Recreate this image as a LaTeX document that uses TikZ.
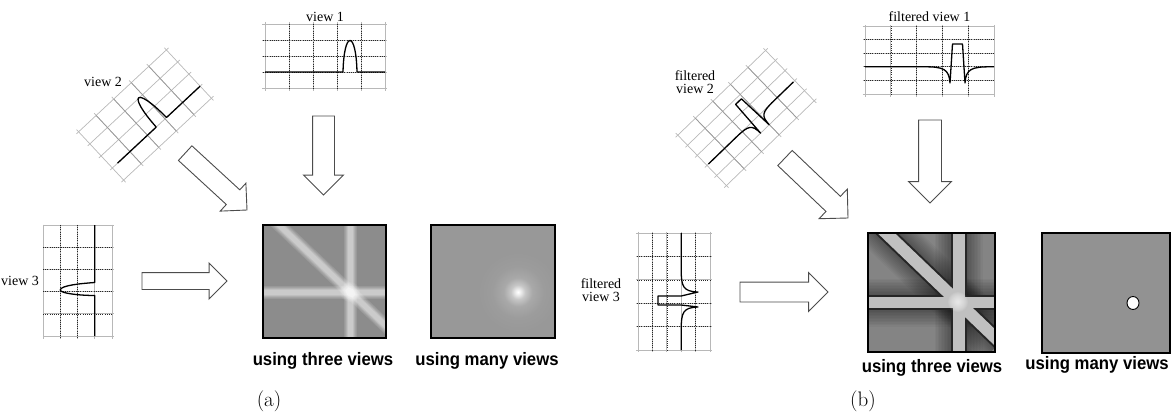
\documentclass[tikz,border=0pt]{standalone}
\usepackage{fontspec}
\usepackage{tikz}
\usetikzlibrary{positioning,shapes.arrows}
\newfontfamily\viewfont{Liberation Serif}
\newfontfamily\capfont[FakeStretch=0.93]{Liberation Sans}
\definecolor{imga}{RGB}{140,140,140}
\definecolor{imgm}{RGB}{152,152,152}
\definecolor{imgb}{RGB}{132,132,132}
\definecolor{imgbm}{RGB}{146,146,146}
\definecolor{bandb}{RGB}{192,192,192}
\pgfdeclareradialshading{glow}{\pgfpoint{0bp}{0bp}}{color(0bp)=(white); color(1.5bp)=(white!85!imgm);
  color(4.5bp)=(white!45!imgm); color(9bp)=(white!16!imgm); color(16bp)=(white!4!imgm); color(25bp)=(imgm); color(50bp)=(imgm)}

\begin{document}
\begin{tikzpicture}[
  x=1pt, y=-1pt,
  viewbox/.style={inner sep=0pt, outer sep=0pt},
  gridln/.style={draw=black!28, line width=0.7pt},
  griddot/.style={draw=black!85, line width=0.6pt, dash pattern=on 1pt off 1.2pt},
  sig/.style={draw=black, line width=1.3pt, line join=round},
  blockarr/.style={single arrow, draw=black!70, fill=white, line width=0.9pt,
    single arrow head indent=0pt, inner xsep=0pt, outer sep=0pt, minimum width=0pt, anchor=tip},
  viewlab/.style={font=\viewfont\fontsize{14}{12.5}\selectfont, align=center, inner sep=0pt},
  img/.style={inner sep=0pt, outer sep=0pt},
  border/.style={draw=black, line width=1.4pt},
  caplab/.style={font=\capfont\bfseries\fontsize{18}{18}\selectfont, inner sep=0pt},
  sublab/.style={font=\fontsize{21}{24}\selectfont, inner sep=0pt},
]
\useasboundingbox (0,0) rectangle (1172,420);

% (a) The three views.
\node[viewbox, minimum width=120pt, minimum height=64pt] (V1) at (325,56) {};
\begin{scope}[shift={(V1.center)}]
  \foreach \x in {-60,-36,...,60} \draw[gridln] (\x,-34) -- (\x,35);
  \foreach \y in {-32,-16,...,32} \draw[gridln] (-63,\y) -- (62,\y);
  \foreach \x in {-36,-12,12,36} \draw[griddot] (\x,-32) -- (\x,34);
  \foreach \y in {-16,0,16} \draw[griddot] (-62,\y) -- (60,\y);
  \draw[sig] (-60,16) -- (18,16) .. controls (19,-26) and (31,-26) .. (32,16) -- (60,16);
\end{scope}
\node[viewlab, above=2pt of V1] (L1) {view 1};

\node[viewbox, rotate=43, minimum width=120pt, minimum height=66pt] (V2) at (145,115) {};
\begin{scope}[shift={(V2.center)}, rotate=43]
  \foreach \x in {-60,-36,...,60} \draw[gridln] (\x,-36) -- (\x,36);
  \foreach \y in {-33,-16.5,0,16.5,33} \draw[gridln] (-63,\y) -- (63,\y);
  \foreach \x in {-36,-12,12,36} \draw[gridln, draw=black!40] (\x,-33) -- (\x,33);
  \draw[sig] (-53,16.5) -- (0,16.5) .. controls (1,-28) and (13,-28) .. (14,16.5) -- (60,16.5);
\end{scope}
\node[viewlab] (L2) at (103,82) {view 2};

\node[viewbox, minimum width=69pt, minimum height=111pt] (V3) at (77.5,280.5) {};
\begin{scope}[shift={(V3.center)}]
  \foreach \x in {-34.5,-17.25,0,17.25,34.5} \draw[gridln] (\x,-56) -- (\x,58);
  \foreach \y in {-55.5,-33.3,-11.1,11.1,33.3,55.5} \draw[gridln] (-34.5,\y) -- (36,\y);
  \foreach \x in {-17.25,0} \draw[griddot] (\x,-55.5) -- (\x,57);
  \foreach \y in {-33.3,-11.1,11.1,33.3} \draw[griddot] (-34.5,\y) -- (34.5,\y);
  \draw[sig] (17.25,-55.5) -- (17.25,2) .. controls (3,3) and (-17,5) .. (-17.25,9.5)
    .. controls (-17,13) and (3,15) .. (17.25,15) -- (17.25,55.5);
\end{scope}
\node[viewlab, anchor=west] (L3) at (1,281) {view 3};

\node[blockarr, rotate=-90, minimum height=79pt, inner ysep=10.5pt, single arrow head extend=9pt] (A1) at (323.5,195) {};
\node[blockarr, rotate=-42.6, minimum height=84pt, inner ysep=9.5pt, single arrow head extend=9pt] (A2) at (247,210) {};
\node[blockarr, minimum height=85pt, inner ysep=8pt, single arrow head extend=9.5pt] (A3) at (227,281) {};

% (a) Back projection.
\node[img, fill=imga, minimum width=123pt, minimum height=113pt] (I3) at (324.5,281.5) {};
\begin{scope}
  \clip (I3.south west) rectangle (I3.north east);
  \foreach \w/\o in {13/0.12, 11/0.1, 9/0.15, 7/0.2, 5/0.2} {
    \draw[white, opacity=\o, line width=\w pt] (350,215) -- (350,345);
    \draw[white, opacity=\o, line width=\w pt] (258,292) -- (392,292);
    \draw[white, opacity=\o, line width=\w pt] (272,218.3) -- (392,331.7);
  }
  \foreach \r in {1,...,10} \fill[white, opacity=0.08] (350,292) circle (\r pt);
\end{scope}
\draw[border] (I3.south west) rectangle (I3.north east);

\node[img, fill=imgm, minimum width=124pt, minimum height=113pt] (IM) at (493,281.5) {};
\begin{scope}
  \clip (IM.south west) rectangle (IM.north east);
  \shade[shading=glow] (518,292) circle (40pt);
\end{scope}
\draw[border] (IM.south west) rectangle (IM.north east);

\node[caplab] (C3a) at (323,361) {using three views};
\node[caplab] (CMa) at (487,361) {using many views};
\node[sublab] (SA) at (269,401) {(a)};

% (b) The filtered views.
\node[viewbox, minimum width=129pt, minimum height=68pt] (F1) at (929.5,60) {};
\begin{scope}[shift={(F1.center)}]
  \foreach \x in {-64.5,-38.7,-12.9,12.9,38.7,64.5} \draw[gridln] (\x,-35) -- (\x,37);
  \foreach \y in {-34,-20.4,-6.8,6.8,20.4,34} \draw[gridln] (-67,\y) -- (65,\y);
  \foreach \x in {-38.7,-12.9,12.9,38.7} \draw[griddot] (\x,-34) -- (\x,36);
  \foreach \y in {-20.4,-6.8,6.8,20.4} \draw[griddot] (-66,\y) -- (64.5,\y);
  \draw[sig] (-64.5,6.8) -- (-5,6.8) .. controls (14,6.8) and (19.5,9) .. (20.5,23) -- (23,-16)
    -- (33,-16) -- (35.5,23) .. controls (36.5,9) and (42,6.8) .. (61,6.8) -- (64.5,6.8);
\end{scope}
\node[viewlab, above=4pt of F1] (M1) {filtered view 1};

\node[viewbox, rotate=44, minimum width=122pt, minimum height=70pt] (F2) at (746,118) {};
\begin{scope}[shift={(F2.center)}, rotate=44]
  \foreach \x in {-61,-36.6,-12.2,12.2,36.6,61} \draw[gridln] (\x,-38) -- (\x,38);
  \foreach \y in {-35,-21,-7,7,21,35} \draw[gridln] (-64,\y) -- (64,\y);
  \foreach \x in {-36.6,-12.2,12.2,36.6} \draw[gridln, draw=black!40] (\x,-35) -- (\x,35);
  \draw[sig] (-59,7) -- (-20,7) .. controls (-3,7) and (-0.5,9) .. (0,21) -- (2,-17) -- (10,-17)
    -- (12,21) .. controls (12.5,9) and (15,7) .. (32,7) -- (59,7);
\end{scope}
\node[viewlab] (M2) at (695,82) {filtered\\view 2};

\node[viewbox, minimum width=72pt, minimum height=117pt] (F3) at (674,291.5) {};
\begin{scope}[shift={(F3.center)}]
  \foreach \x in {-36,-21.6,-7.2,7.2,21.6,36} \draw[gridln] (\x,-60) -- (\x,60);
  \foreach \y in {-58.5,-35.1,-11.7,11.7,35.1,58.5} \draw[gridln] (-38,\y) -- (38,\y);
  \foreach \x in {-21.6,-7.2,21.6} \draw[griddot] (\x,-58.5) -- (\x,60);
  \foreach \y in {-35.1,-11.7,11.7,35.1} \draw[griddot] (-37,\y) -- (37,\y);
  \draw[sig] (7.2,-58.5) -- (7.2,-22) .. controls (7.2,-5) and (9,0) .. (24,0.5) -- (7.2,4.5)
    -- (-16,4.5) -- (-16,13.5) -- (7.2,13.5) -- (24,15.5) .. controls (9,16) and (7.2,21) .. (7.2,38) -- (7.2,58.5);
\end{scope}
\node[viewlab] (M3) at (601,290) {filtered\\view 3};

\node[blockarr, rotate=-90, minimum height=83pt, inner ysep=11pt, single arrow head extend=10pt] (B1) at (930,203) {};
\node[blockarr, rotate=-43.6, minimum height=87pt, inner ysep=10pt, single arrow head extend=10pt] (B2) at (848,218) {};
\node[blockarr, minimum height=88pt, inner ysep=9.5pt, single arrow head extend=9.5pt] (B3) at (828,292) {};

% (b) Filtered back projection.
\node[img, fill=imgb, minimum width=127pt, minimum height=119pt] (J3) at (931.5,292.5) {};
\begin{scope}
  \clip (J3.south west) rectangle (J3.north east);
  \foreach \w in {18,21,...,50} {
    \draw[black, opacity=0.035, line width=\w pt] (958.5,225) -- (958.5,360);
    \draw[black, opacity=0.035, line width=\w pt] (860,302.5) -- (1000,302.5);
    \draw[black, opacity=0.035, line width=\w pt] (876,223.4) -- (1000,342.3);
  }
  \draw[black!85, line width=16pt] (958.5,225) -- (958.5,360);
  \draw[black!85, line width=15pt] (860,302.5) -- (1000,302.5);
  \draw[black!85, line width=16pt] (876,223.4) -- (1000,342.3);
  \draw[bandb, line width=12pt] (958.5,225) -- (958.5,360);
  \draw[bandb, line width=11pt] (860,302.5) -- (1000,302.5);
  \draw[bandb, line width=12pt] (876,223.4) -- (1000,342.3);
  \foreach \r in {1,...,10} \fill[white, opacity=0.1] (958,302) circle (\r pt);
\end{scope}
\draw[border] (J3.south west) rectangle (J3.north east);

\node[img, fill=imgbm, minimum width=128pt, minimum height=120pt] (JM) at (1106,293) {};
\draw[border] (JM.south west) rectangle (JM.north east);
\draw[fill=white, line width=0.9pt] (1133,303) ellipse (6pt and 6.5pt);

\node[caplab] (C3b) at (932,368) {using three views};
\node[caplab] (CMb) at (1097,365) {using many views};
\node[sublab] (SB) at (863,401) {(b)};
\end{tikzpicture}
\end{document}
